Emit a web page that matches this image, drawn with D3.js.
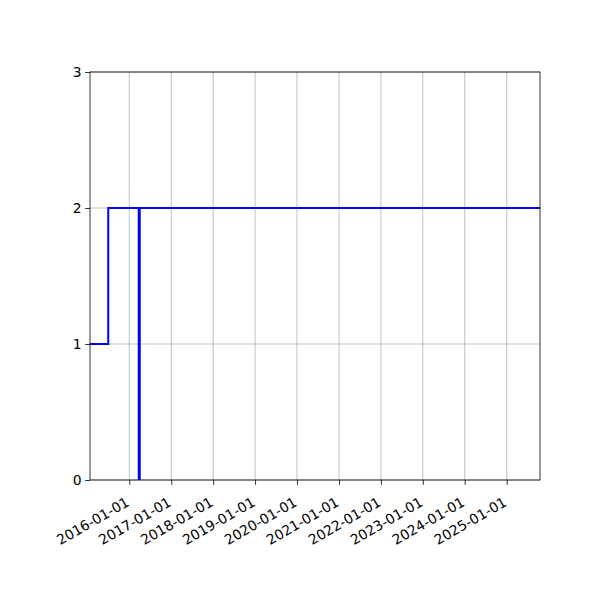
<!DOCTYPE html>
<html>
<head>
<meta charset="utf-8">
<script src="https://cdn.jsdelivr.net/npm/d3@7"></script>
<style>
  body { margin: 0; background: #fff; }
  svg text { font-family: "DejaVu Sans", sans-serif; }
</style>
</head>
<body>
<svg id="chart" width="600" height="600"></svg>
<script>
// step series
const stepDates = ["2015-01-24", "2015-07-02", "2025-10-18"];
const stepValues = [1, 2, 2];
// single spike drawn as a thick vertical line
const spikeDate = "2016-03-28";
const spikeRange = [0, 2];

const xDomain = ["2015-01-24", "2025-10-18"];
const yTicks = [0, 1, 2, 3];

const parse = d3.timeParse("%Y-%m-%d");
const margin = { left: 90, right: 60, top: 72, bottom: 120 };
const width = 600, height = 600;

const svg = d3.select("#chart");

const x = d3.scaleTime()
  .domain(xDomain.map(parse))
  .range([margin.left, width - margin.right]);
const y = d3.scaleLinear()
  .domain([0, 3])
  .range([height - margin.bottom, margin.top]);

const xTicks = d3.timeYear.range(parse("2016-01-01"), parse("2025-06-01"));

// grid
const grid = svg.append("g");
grid.selectAll(".vg").data(xTicks).enter().append("line")
  .attr("x1", d => x(d)).attr("x2", d => x(d))
  .attr("y1", y(0)).attr("y2", y(3))
  .attr("stroke", "#b0b0b0").attr("stroke-width", 0.8);
grid.selectAll(".hg").data(yTicks).enter().append("line")
  .attr("x1", margin.left).attr("x2", width - margin.right)
  .attr("y1", d => y(d)).attr("y2", d => y(d))
  .attr("stroke", "#b0b0b0").attr("stroke-width", 0.8);

// step line
const pts = stepDates.map((d, i) => [parse(d), stepValues[i]]);
const line = d3.line()
  .x(d => x(d[0])).y(d => y(d[1]))
  .curve(d3.curveStepAfter);
svg.append("path")
  .attr("d", line(pts))
  .attr("fill", "none")
  .attr("stroke", "#0000ff")
  .attr("stroke-width", 2);

// spike
svg.append("line")
  .attr("x1", x(parse(spikeDate))).attr("x2", x(parse(spikeDate)))
  .attr("y1", y(spikeRange[0])).attr("y2", y(spikeRange[1]))
  .attr("stroke", "#0000ff")
  .attr("stroke-width", 3);

// axes
const xAxis = svg.append("g")
  .attr("transform", `translate(0,${height - margin.bottom})`)
  .call(d3.axisBottom(x).tickValues(xTicks).tickFormat(d3.timeFormat("%Y-%m-%d"))
    .tickSize(4.9).tickPadding(3.5).tickSizeOuter(0));
xAxis.select(".domain").remove();
xAxis.selectAll("line").attr("stroke", "#000").attr("stroke-width", 0.8);
// rotated labels, right end tucked under the tick like autofmt_xdate
xAxis.selectAll("text")
  .attr("font-size", 13.9)
  .attr("fill", "#000")
  .attr("text-anchor", "end")
  .attr("x", 0).attr("y", 0).attr("dy", 0)
  .attr("transform", "translate(0.5,25) rotate(-30)");

const yAxis = svg.append("g")
  .attr("transform", `translate(${margin.left},0)`)
  .call(d3.axisLeft(y).tickValues(yTicks).tickFormat(d3.format("d"))
    .tickSize(4.9).tickPadding(3.5).tickSizeOuter(0));
yAxis.select(".domain").remove();
yAxis.selectAll("line").attr("stroke", "#000").attr("stroke-width", 0.8);
yAxis.selectAll("text").attr("font-size", 13.9).attr("fill", "#000");

// frame
svg.append("rect")
  .attr("x", margin.left).attr("y", margin.top)
  .attr("width", width - margin.left - margin.right)
  .attr("height", height - margin.top - margin.bottom)
  .attr("fill", "none").attr("stroke", "#000").attr("stroke-width", 0.8);
</script>
</body>
</html>
